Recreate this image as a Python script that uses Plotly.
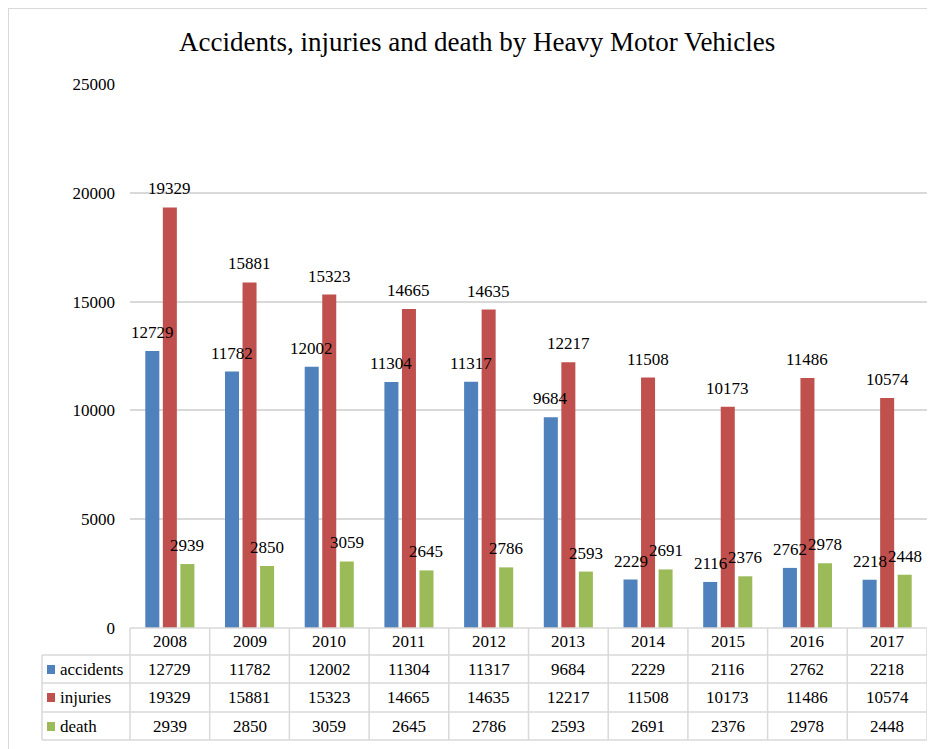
import plotly.graph_objects as go

years = ["2008", "2009", "2010", "2011", "2012", "2013", "2014", "2015", "2016", "2017"]
accidents = [12729, 11782, 12002, 11304, 11317, 9684, 2229, 2116, 2762, 2218]
injuries = [19329, 15881, 15323, 14665, 14635, 12217, 11508, 10173, 11486, 10574]
death = [2939, 2850, 3059, 2645, 2786, 2593, 2691, 2376, 2978, 2448]
series_names = ["accidents", "injuries", "death"]
series_values = [accidents, injuries, death]
colors = ["#4F81BD", "#C0504D", "#9BBB59"]
y_ticks = [0, 5000, 10000, 15000, 20000, 25000]

W, H = 935, 749
FONT = "Liberation Serif, Times New Roman, Times, serif"
GRID = "#d9d9d9"
OFF = 8  # page offset of the plot div

def px(x):
    return (x - OFF) / W

def py(y):
    return 1 - (y - OFF) / H

x0, x1 = 130, 927
y_zero, y_top = 628, 84
idx = list(range(len(years)))

fig = go.Figure()
for name, vals, col in zip(series_names, series_values, colors):
    fig.add_trace(go.Bar(x=idx, y=vals, name=name, marker=dict(color=col, line=dict(width=0)),
                         showlegend=False))

annotations = []
shapes = []

# data labels
offsets = [-17.5, 0, 17.5]
for vals, off in zip(series_values, offsets):
    for i, v in zip(idx, vals):
        annotations.append(dict(x=i, y=v, xref="x", yref="y", text=str(v), showarrow=False,
                                xshift=off, yshift=7, yanchor="bottom",
                                font=dict(family=FONT, size=17, color="black")))

# title
annotations.append(dict(x=px(477), y=py(42), xref="paper", yref="paper",
                        text="Accidents, injuries and death by Heavy Motor Vehicles",
                        showarrow=False, font=dict(family=FONT, size=27, color="black"),
                        xanchor="center", yanchor="middle"))

# outer border
shapes.append(dict(type="rect", xref="paper", yref="paper", x0=px(8), x1=px(980), y0=py(8), y1=py(800),
                   line=dict(color="#d9d9d9", width=2)))

# data table
row_lines = [655, 683, 712, 740]
row_centers = [669, 697, 726]
header_center = 641
ncat = len(years)
cw = (x1 - x0) / ncat
shapes.append(dict(type="line", xref="paper", yref="paper", x0=px(x0), x1=px(x1), y0=py(y_zero), y1=py(y_zero),
                   line=dict(color=GRID, width=1.5)))
for ry in row_lines:
    shapes.append(dict(type="line", xref="paper", yref="paper", x0=px(42), x1=px(x1), y0=py(ry), y1=py(ry),
                       line=dict(color=GRID, width=1.5)))
shapes.append(dict(type="line", xref="paper", yref="paper", x0=px(42), x1=px(42), y0=py(655), y1=py(740),
                   line=dict(color=GRID, width=1.5)))
for k in range(ncat + 1):
    xx = x0 + cw * k
    shapes.append(dict(type="line", xref="paper", yref="paper", x0=px(xx), x1=px(xx), y0=py(y_zero), y1=py(740),
                       line=dict(color=GRID, width=1.5)))
for i, yr in zip(idx, years):
    annotations.append(dict(x=i, y=py(header_center), xref="x", yref="paper", text=yr, showarrow=False,
                            font=dict(family=FONT, size=17, color="black"), yanchor="middle"))
for name, vals, col, rc in zip(series_names, series_values, colors, row_centers):
    shapes.append(dict(type="rect", xref="paper", yref="paper", x0=px(47), x1=px(55), y0=py(rc - 4), y1=py(rc + 5),
                       fillcolor=col, line=dict(width=0)))
    annotations.append(dict(x=px(58), y=py(rc), xref="paper", yref="paper", text=name, showarrow=False,
                            xanchor="left", yanchor="middle", font=dict(family=FONT, size=17, color="black")))
    for i, v in zip(idx, vals):
        annotations.append(dict(x=i, y=py(rc), xref="x", yref="paper", text=str(v), showarrow=False,
                                yanchor="middle", font=dict(family=FONT, size=17, color="black")))

fig.update_layout(
    width=W, height=H,
    margin=dict(l=0, r=0, t=0, b=0, autoexpand=False),
    paper_bgcolor="white", plot_bgcolor="white",
    font=dict(family=FONT, size=17, color="black"),
    barmode="group", bargap=0.34, bargroupgap=0.2,
    xaxis=dict(domain=[px(x0), px(x1)], range=[-0.5, ncat - 0.5], showticklabels=False, showgrid=False,
               zeroline=False, showline=False, ticks="", automargin=False),
    yaxis=dict(domain=[py(y_zero), py(y_top)], range=[0, 25000], tickvals=y_ticks,
               ticktext=[str(t) for t in y_ticks], showgrid=True, gridcolor=GRID, gridwidth=1.5,
               zeroline=False, showline=False, ticks="", ticklabelstandoff=14, automargin=False,
               tickfont=dict(family=FONT, size=17, color="black")),
    annotations=annotations, shapes=shapes,
    showlegend=False,
)

fig.write_html("out.html")
